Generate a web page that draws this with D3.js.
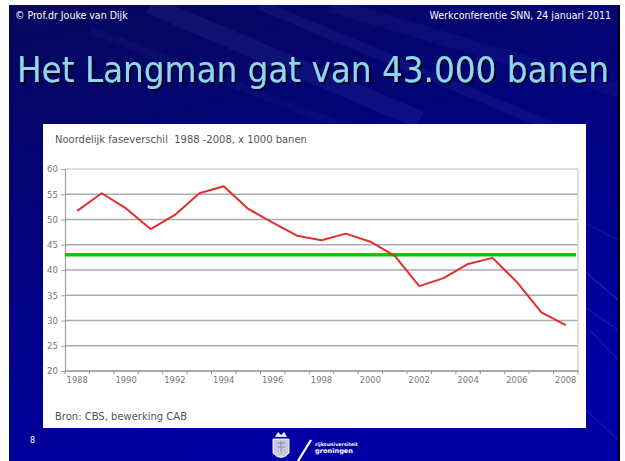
<!DOCTYPE html>
<html>
<head>
<meta charset="utf-8">
<script src="https://cdn.jsdelivr.net/npm/d3@7"></script>
<style>
  html, body { margin: 0; padding: 0; background: #ffffff; }
  svg { display: block; }
</style>
</head>
<body>
<svg id="chart" width="625" height="461"></svg>
<script>
// ---- data ----
const years = [1988,1989,1990,1991,1992,1993,1994,1995,1996,1997,1998,1999,2000,2001,2002,2003,2004,2005,2006,2007,2008];
const faseverschil = [51.7,55.2,52.2,48.1,50.9,55.2,56.6,52.1,49.4,46.8,45.9,47.2,45.6,42.8,36.8,38.4,41.2,42.4,37.6,31.6,29.1];
const langmanGap = [43];
const yTicks = [20,25,30,35,40,45,50,55,60];
const xTickLabels = [1988,1990,1992,1994,1996,1998,2000,2002,2004,2006,2008];
const slideTitle = "Het Langman gat van 43.000 banen";
const headerLeft = "© Prof.dr Jouke van Dijk";
const headerRight = "Werkconferentie SNN, 24 januari 2011";
const chartTitle = "Noordelijk faseverschil  1988 -2008, x 1000 banen";
const sourceNote = "Bron: CBS, bewerking CAB";
const slideNumber = "8";
const logoLines = ["rijksuniversiteit", "groningen"];

const svg = d3.select("#chart");
const defs = svg.append("defs");

// fit a text's font size so its natural width equals target
function fitWidth(sel, target) {
  const fs = parseFloat(sel.attr("font-size"));
  const w = sel.node().getComputedTextLength();
  if (w > 0) sel.attr("font-size", (fs * target / w).toFixed(2));
}

// slide background
const bg = defs.append("linearGradient").attr("id","bg")
  .attr("x1","0").attr("y1","0").attr("x2","0.35").attr("y2","1");
bg.append("stop").attr("offset","0").attr("stop-color","#07075c");
bg.append("stop").attr("offset","0.45").attr("stop-color","#03037c");
bg.append("stop").attr("offset","1").attr("stop-color","#0000a4");

const shadow = defs.append("filter").attr("id","shadow")
  .attr("x","-5%").attr("y","-20%").attr("width","110%").attr("height","140%");
shadow.append("feDropShadow").attr("dx",2).attr("dy",2).attr("stdDeviation",0.6)
  .attr("flood-color","#000018").attr("flood-opacity",0.95);

const slideX = 9, slideY = 5, slideW = 609, slideH = 456;
svg.append("rect").attr("x",slideX).attr("y",slideY).attr("width",slideW+2).attr("height",slideH)
  .attr("fill","#000");
svg.append("rect").attr("x",slideX).attr("y",slideY).attr("width",slideW).attr("height",slideH)
  .attr("fill","url(#bg)");

// faint diagonal streaks
defs.append("clipPath").attr("id","slideClip").append("rect")
  .attr("x",slideX).attr("y",slideY).attr("width",slideW).attr("height",slideH);
const streaks = svg.append("g").attr("clip-path","url(#slideClip)");
const streakData = [
  [150,5,420,120,0.07,18],[260,5,560,130,0.06,10],[330,5,618,90,0.05,14],
  [90,30,380,140,0.04,8],[560,250,618,300,0.18,1.5],[575,300,618,330,0.15,1.2],
  [590,330,618,360,0.12,1.2],[540,200,618,240,0.1,1.2],[586,410,618,440,0.12,1.2]
];
streaks.selectAll("line").data(streakData).join("line")
  .attr("x1",d=>d[0]).attr("y1",d=>d[1]).attr("x2",d=>d[2]).attr("y2",d=>d[3])
  .attr("stroke","#9fb8ff").attr("stroke-opacity",d=>d[4]).attr("stroke-width",d=>d[5]);

// header
svg.append("text").attr("x",15).attr("y",19).text(headerLeft)
  .attr("font-family","DejaVu Sans Condensed, DejaVu Sans, sans-serif").attr("font-size",10.5)
  .attr("fill","#ffffff");
svg.append("text").attr("x",611).attr("y",19).attr("text-anchor","end").text(headerRight)
  .attr("font-family","DejaVu Sans Condensed, DejaVu Sans, sans-serif").attr("font-size",10.5)
  .attr("fill","#ffffff");

// title
const title = svg.append("text").attr("x",17).attr("y",82).text(slideTitle)
  .attr("font-family","DejaVu Sans Condensed, DejaVu Sans, sans-serif").attr("font-size",42)
  .attr("fill","#8fd6ef").attr("filter","url(#shadow)");
fitWidth(title, 592);

// chart panel
const panel = {x:43, y:124, w:543, h:304};
svg.append("rect").attr("x",panel.x).attr("y",panel.y).attr("width",panel.w).attr("height",panel.h)
  .attr("fill","#ffffff");

const plot = {left:65, right:578, top:169, bottom:371};
const x = d3.scaleBand().domain(years).range([plot.left, plot.right]).padding(0);
const y = d3.scaleLinear().domain([20,60]).range([plot.bottom, plot.top]);

const g = svg.append("g");

// chart title
const ct = g.append("text").attr("x",55).attr("y",143).text(chartTitle)
  .style("white-space","pre")
  .attr("font-family","DejaVu Sans, Verdana, sans-serif").attr("font-size",9)
  .attr("fill","#555");
fitWidth(ct, 252);

// gridlines
g.selectAll("line.grid").data(yTicks.filter(t=>t>20)).join("line").attr("class","grid")
  .attr("x1",plot.left).attr("x2",plot.right)
  .attr("y1",d=>y(d)).attr("y2",d=>y(d))
  .attr("stroke",d=>d===60?"#d4d4d4":"#ababab").attr("stroke-width",1.5);
// right border
g.append("line").attr("x1",plot.right).attr("x2",plot.right).attr("y1",plot.top).attr("y2",plot.bottom)
  .attr("stroke","#d4d4d4").attr("stroke-width",1.5);

// y axis
const yAxis = d3.axisLeft(y).tickValues(yTicks).tickSize(4).tickPadding(3);
const ya = g.append("g").attr("transform",`translate(${plot.left},0)`).call(yAxis);
ya.select(".domain").attr("stroke","#a0a0a0").attr("stroke-width",1.2);
ya.selectAll(".tick line").attr("stroke","#a0a0a0");
ya.selectAll(".tick text").attr("font-family","DejaVu Sans, Verdana, sans-serif")
  .attr("font-size",8.6).attr("fill","#777");

// x axis: ticks at band boundaries, labels every other year
const xa = g.append("g");
xa.append("line").attr("x1",plot.left).attr("x2",plot.right).attr("y1",plot.bottom).attr("y2",plot.bottom)
  .attr("stroke","#909090").attr("stroke-width",1.5);
const bounds = years.map(yr => x(yr)).concat([x(years[years.length-1]) + x.bandwidth()]);
xa.selectAll("line.xt").data(bounds).join("line").attr("class","xt")
  .attr("x1",d=>d).attr("x2",d=>d).attr("y1",plot.bottom).attr("y2",plot.bottom+3)
  .attr("stroke","#909090");
xa.selectAll("text").data(xTickLabels).join("text")
  .attr("x",d=>x(d)+x.bandwidth()/2).attr("y",plot.bottom+12).attr("text-anchor","middle")
  .text(d=>d).attr("font-family","DejaVu Sans, Verdana, sans-serif")
  .attr("font-size",8.4).attr("fill","#777");

// green reference line
g.selectAll("line.ref").data(langmanGap).join("line").attr("class","ref")
  .attr("x1",plot.left).attr("x2",576).attr("y1",d=>y(d)).attr("y2",d=>y(d))
  .attr("stroke","#00cc00").attr("stroke-width",3.5);

// red series
const line = d3.line().x((d,i)=>x(years[i])+x.bandwidth()/2).y(d=>y(d));
g.append("path").datum(faseverschil).attr("d",line)
  .attr("fill","none").attr("stroke","#e0302e").attr("stroke-width",2)
  .attr("stroke-linejoin","round");

// source
const src = g.append("text").attr("x",55).attr("y",420).text(sourceNote)
  .attr("font-family","DejaVu Sans, Verdana, sans-serif").attr("font-size",9)
  .attr("fill","#555");
fitWidth(src, 132);

// footer
svg.append("text").attr("x",30).attr("y",443).text(slideNumber)
  .attr("font-family","DejaVu Sans, sans-serif").attr("font-size",8).attr("fill","#ffffff");

const logo = svg.append("g");
logo.append("path").attr("d","M273,439 L289,439 L289,453 Q281,462 273,453 Z")
  .attr("fill","#c8c8dc").attr("stroke","#ffffff").attr("stroke-width",0.9);
logo.append("path").attr("d","M275,437 L278,432 L281,435 L284,432 L287,437 Z").attr("fill","#e8e8f0");
logo.append("path").attr("d","M277,443 L285,443 M277,447 L285,447 M281,441 L281,452")
  .attr("stroke","#8888aa").attr("stroke-width",1);
logo.append("line").attr("x1",298).attr("y1",461).attr("x2",311).attr("y2",440)
  .attr("stroke","#ffffff").attr("stroke-width",2.2);
const lt = logo.selectAll("text").data(logoLines).join("text")
  .attr("x",315).attr("y",(d,i)=>446+i*7).text(d=>d)
  .attr("font-family","DejaVu Sans, sans-serif").attr("font-weight","bold")
  .attr("font-size",6.6).attr("fill","#ffffff");
fitWidth(d3.select(lt.nodes()[0]), 43);
</script>
</body>
</html>
